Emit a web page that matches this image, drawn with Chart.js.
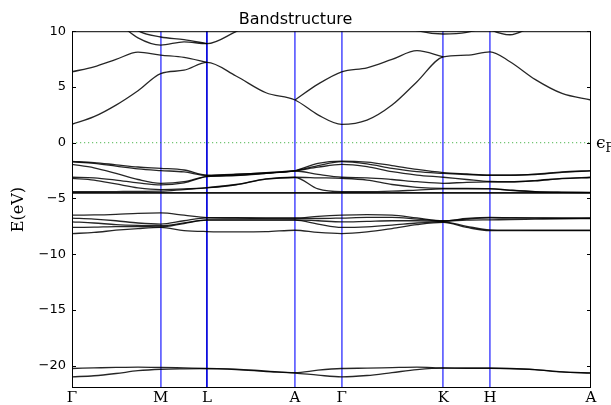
<!DOCTYPE html>
<html>
<head>
<meta charset="utf-8">
<title>Bandstructure</title>
<script src="https://cdn.jsdelivr.net/npm/chart.js@4.4.1/dist/chart.umd.min.js"></script>
<style>
    html, body { margin: 0; padding: 0; background: #fff; }
    #wrap { width: 611px; height: 405px; }
</style>
</head>
<body>
<div id="wrap"><canvas id="bandCanvas" width="611" height="405"></canvas></div>
<script>
// distance along the k-path for every sampled point
const kDist = [0, 0.22, 0.44, 0.66, 0.887, 1.12, 1.35, 1.64, 1.94, 2.23, 2.46, 2.697,
    2.95, 3.2, 3.45, 3.713, 3.947, 4.18, 4.38, 4.63, 4.9, 5.19];
// high-symmetry points
const kTicks = [0, 0.887, 1.35, 2.23, 2.697, 3.713, 4.18, 5.19];
const kLabels = ["Γ", "M", "L", "A", "Γ", "K", "H", "A"];
const yTicks = [-20, -15, -10, -5, 0, 5, 10];
const fermiLevel = 0;

// band energies (eV), one value per kDist entry (null = degenerate with a band already drawn)
const bandS1 = [-20.25, -20.2, -20.15, -20.12, -20.15, -20.2, -20.25, -20.3, -20.48, -20.63, -20.4, -20.25,
    -20.22, -20.17, -20.13, -20.2, -20.22, -20.22, -20.25, -20.35, -20.55, -20.65];
const bandS2 = [-21.0, -20.9, -20.7, -20.45, -20.32, -20.28, -20.27, -20.35, -20.52, -20.66, -20.85, -21.0,
    -20.88, -20.62, -20.35, -20.22, -20.23, -20.23, -20.26, -20.36, -20.56, -20.66];

const bandD1 = [-6.5, -6.48, -6.42, -6.33, -6.3, -6.5, -6.72, -6.73, -6.74, -6.75, -6.6, -6.5,
    -6.45, -6.5, -6.75, -7.0, -6.8, -6.7, -6.72, -6.74, -6.75, -6.75];
const bandD2 = [-6.76, -6.85, -7.0, -7.2, -7.3, -7.0, -6.75, -6.77, -6.78, -6.8, -6.8, -6.76,
    -6.7, -6.7, -6.85, -7.02, -6.85, -6.75, -6.76, -6.77, -6.78, -6.78];
const bandD3 = [-7.1, -7.2, -7.35, -7.42, -7.45, -7.2, -6.93, -6.93, -6.92, -6.92, -7.0, -7.1,
    -7.05, -7.0, -7.0, -7.05, -6.95, -6.92, -6.9, -6.86, -6.82, -6.8];
const bandD4 = [-7.6, -7.58, -7.52, -7.52, -7.55, -7.25, -6.95, -6.95, -6.95, -6.95, -7.3, -7.6,
    -7.55, -7.4, -7.2, -7.1, -7.5, -7.82, -7.84, -7.85, -7.85, -7.85];
const bandD5 = [-8.15, -8.05, -7.85, -7.7, -7.6, -7.88, -7.97, -8.0, -7.98, -7.85, -8.05, -8.15,
    -8.0, -7.7, -7.35, -7.15, -7.6, -7.88, -7.88, -7.88, -7.88, -7.88];

const bandV1 = [-1.68, -1.78, -1.98, -2.18, -2.3, -2.45, -2.9, -2.82, -2.68, -2.5, -1.85, -1.65,
    -1.75, -2.05, -2.4, -2.68, -2.8, -2.9, -2.9, -2.82, -2.62, -2.5];
const bandV2 = [-1.72, -1.85, -2.1, -2.35, -2.5, -2.62, -2.95, -2.85, -2.7, -2.52, -2.05, -1.7,
    -1.9, -2.3, -2.6, -2.75, -2.85, -2.92, -2.92, -2.85, -2.66, -2.52];
const bandV3 = [-1.95, -2.25, -2.75, -3.3, -3.64, -3.5, -3.02, -2.92, -2.74, -2.52, -2.2, -1.95,
    -2.15, -2.6, -2.9, -3.1, -3.3, -3.48, -3.5, -3.4, -3.2, -3.1];
const bandV4 = [-3.1, -3.15, -3.35, -3.6, -3.79, -3.6, -3.05, -2.95, -2.76, -2.54, -2.85, -3.1,
    -3.15, -3.3, -3.5, -3.64, -3.55, -3.52, -3.52, -3.42, -3.22, -3.12];
const bandV5 = [-3.2, -3.35, -3.7, -4.05, -4.2, -4.15, -4.03, -3.75, -3.25, -3.1, -3.15, -3.2,
    -3.35, -3.75, -4.0, -4.1, -4.1, -4.12, -4.25, -4.38, -4.44, -4.46];
const bandV6 = [-4.4, -4.4, -4.38, -4.36, -4.35, -4.2, -4.05, -3.77, -3.27, -3.12, -4.15, -4.4,
    -4.4, -4.35, -4.25, -4.15, -4.14, -4.14, -4.27, -4.4, -4.45, -4.47];
const bandV7 = [-4.47, -4.47, -4.47, -4.47, -4.47, -4.47, -4.47, -4.47, -4.47, -4.47, -4.47, -4.47,
    -4.47, -4.47, -4.47, -4.47, -4.47, -4.47, -4.47, -4.47, -4.47, -4.47];
const bandV8 = [-4.52, -4.52, -4.52, -4.52, -4.52, -4.52, -4.52, -4.52, -4.52, -4.52, -4.52, -4.52,
    -4.52, -4.52, -4.52, -4.52, -4.52, -4.52, -4.52, -4.52, -4.52, -4.52];

const bandC1 = [1.65, 2.33, 3.37, 4.66, 6.2, 6.5, 7.2, 5.98, 4.48, 3.83, 2.5, 1.65,
    2.03, 3.38, 5.47, 7.7, 7.85, 8.15, 7.26, 5.68, 4.42, 3.83];
const bandC2 = [6.36, 6.8, 7.47, 8.12, 7.86, 7.65, 7.2, null, null, 3.83, 5.25, 6.36,
    6.72, 7.47, 8.25, 7.7, null, null, null, null, null, null];
const bandC3 = [13.0, 12.2, 10.9, 9.4, 8.75, 9.05, 8.88, 9.97, 11.3, 12.5, 13.0, 13.0,
    13.0, 13.0, 13.0, 13.0, 13.0, 13.0, 13.0, 13.0, 13.0, 13.0];
const bandC4 = [14.0, 13.0, 11.8, 10.05, 9.48, 9.25, 8.88, null, null, null, null, null,
    null, null, null, null, null, null, null, null, null, null];
const bandC5 = [13.0, 13.0, 13.0, 13.0, 13.0, 13.0, 13.0, 13.0, 13.0, 13.0, 13.0, 13.0,
    12.0, 10.9, 10.05, 9.75, 9.9, 10.5, 11.5, 12.5, 13.0, 13.0];
const bandC6 = [13.0, 13.0, 13.0, 13.0, 13.0, 13.0, 13.0, 13.0, 13.0, 13.0, 13.0, 13.0,
    13.0, 13.0, 13.0, 12.5, 11.5, 10.15, 9.68, 10.6, 12.0, 13.0];

const bands = [bandS1, bandS2, bandD1, bandD2, bandD3, bandD4, bandD5,
    bandV1, bandV2, bandV3, bandV4, bandV5, bandV6, bandV7, bandV8,
    bandC1, bandC2, bandC3, bandC4, bandC5, bandC6];

function toPoints(energies) {
    return energies.map((e, i) => ({ x: kDist[i], y: e }));
}

function minusSign(v) {
    return v < 0 ? "\u2212" + Math.abs(v) : String(v);
}

// frame, inward ticks and the Fermi label
const framePlugin = {
    id: "frame",
    afterDatasetsDraw(chart) {
        const { ctx, chartArea: a } = chart;
        const y = chart.scales.y;
        ctx.save();
        ctx.strokeStyle = "#000";
        ctx.lineWidth = 1;
        ctx.strokeRect(a.left + 0.5, a.top + 0.5, a.right - a.left - 1, a.bottom - a.top - 1);
        ctx.beginPath();
        yTicks.forEach((v) => {
            const py = Math.round(y.getPixelForValue(v)) + 0.5;
            ctx.moveTo(a.left, py);
            ctx.lineTo(a.left + 4, py);
            ctx.moveTo(a.right, py);
            ctx.lineTo(a.right - 4, py);
        });
        ctx.stroke();

        const fy = y.getPixelForValue(fermiLevel);
        ctx.fillStyle = "#000";
        ctx.textBaseline = "alphabetic";
        ctx.font = '17px "DejaVu Serif"';
        ctx.fillText("ϵ", a.right + 5, fy + 5);
        const w = ctx.measureText("ϵ").width;
        ctx.font = '12px "DejaVu Serif"';
        ctx.fillText("F", a.right + 5 + w, fy + 9);
        ctx.restore();
    },
};

document.addEventListener("DOMContentLoaded", () => {
    const datasets = bands.map((b, i) => ({
        label: "band " + (i + 1),
        data: toPoints(b),
        borderColor: "rgba(0, 0, 0, 0.85)",
        borderWidth: 1.3,
        pointRadius: 0,
        fill: false,
        spanGaps: false,
        cubicInterpolationMode: "monotone",
    }));

    datasets.push({
        label: "Fermi level",
        data: [
            { x: kDist[0], y: fermiLevel },
            { x: kDist[kDist.length - 1], y: fermiLevel },
        ],
        borderColor: "rgba(0, 150, 0, 0.55)",
        borderWidth: 1.2,
        borderDash: [1.2, 2.8],
        pointRadius: 0,
        fill: false,
    });

    const ctx = document.getElementById("bandCanvas").getContext("2d");
    new Chart(ctx, {
        type: "line",
        data: { datasets: datasets },
        options: {
            responsive: false,
            animation: false,
            devicePixelRatio: 1,
            layout: { padding: { left: 0, right: 20, top: 0, bottom: 0 } },
            plugins: {
                legend: { display: false },
                tooltip: { enabled: false },
                title: {
                    display: true,
                    text: "Bandstructure",
                    color: "#000",
                    font: { family: "DejaVu Sans", size: 16, weight: "normal" },
                    padding: { top: 10, bottom: 2 },
                },
            },
            scales: {
                x: {
                    type: "linear",
                    min: kTicks[0],
                    max: kTicks[kTicks.length - 1],
                    afterBuildTicks: (scale) => {
                        scale.ticks = kTicks.map((v) => ({ value: v }));
                    },
                    afterFit: (scale) => {
                        scale.height = 17;
                    },
                    ticks: {
                        autoSkip: false,
                        maxRotation: 0,
                        padding: 1,
                        color: "#000",
                        font: { family: "DejaVu Serif", size: 15 },
                        callback: (v, i) => kLabels[i],
                    },
                    grid: {
                        drawTicks: false,
                        lineWidth: 1.8,
                        color: (c) => {
                            if (c.index === 0 || c.index === kTicks.length - 1) return "rgba(0,0,0,0)";
                            if (kLabels[c.index] === "L") return "rgba(0, 0, 220, 0.95)";
                            return "rgba(0, 0, 255, 0.6)";
                        },
                    },
                    border: { display: false },
                },
                y: {
                    min: -22,
                    max: 10,
                    afterBuildTicks: (scale) => {
                        scale.ticks = yTicks.map((v) => ({ value: v }));
                    },
                    afterFit: (scale) => {
                        scale.width = 72;
                    },
                    ticks: {
                        padding: 6,
                        color: "#000",
                        font: { family: "DejaVu Sans", size: 13 },
                        callback: (v) => minusSign(v),
                    },
                    grid: { display: false, drawTicks: false },
                    border: { display: false },
                    title: {
                        display: true,
                        text: "E(eV)",
                        color: "#000",
                        font: { family: "DejaVu Serif", size: 16 },
                        padding: { top: 9, bottom: 0 },
                    },
                },
            },
        },
        plugins: [framePlugin],
    });
});
</script>
</body>
</html>
